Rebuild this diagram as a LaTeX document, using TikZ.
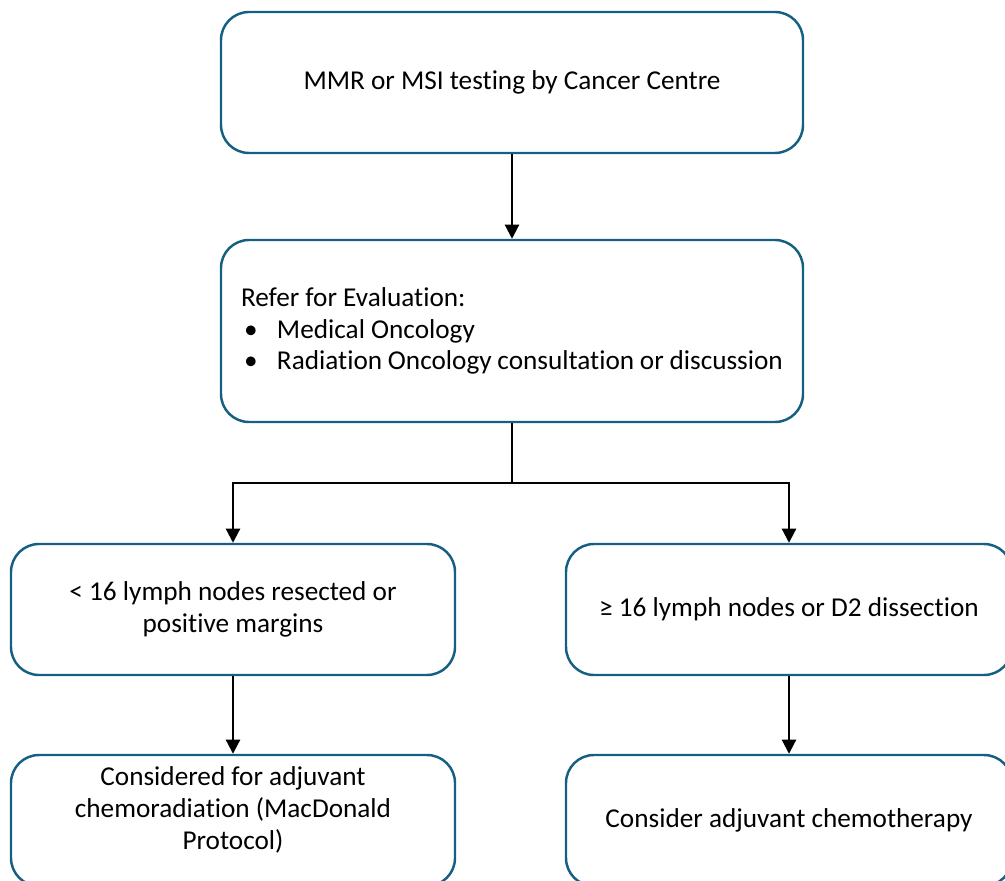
\documentclass[tikz,border=0pt]{standalone}
\usepackage{fontspec}
\setmainfont{Carlito}[Ligatures=NoCommon]
\usetikzlibrary{arrows.meta}
\definecolor{boxblue}{HTML}{156082}
\begin{document}
\begin{tikzpicture}[
    flowbox/.style={draw=boxblue,line width=1.4pt,rounded corners=0.56cm,
        align=center,font=\fontsize{15.5}{18}\selectfont},
    flowarrow/.style={draw=black,line width=1.2pt,-{Triangle[width=8pt,length=8pt]}}
    ]
    \useasboundingbox (0,0) rectangle (20.1,-17.62);
    % boxes
    \node[flowbox,minimum width=11.64cm,minimum height=2.82cm] (testing) at (10.24,-1.65)
        {MMR or MSI testing by Cancer Centre};
    \node[flowbox,minimum width=11.64cm,minimum height=3.64cm,text width=10.84cm,
        inner xsep=0.4cm,align=flush left] (refer) at (10.24,-6.62)
        {Refer for Evaluation:\\
         \hspace*{0.06cm}\makebox[0.66cm][l]{•}Medical Oncology\\
         \hspace*{0.06cm}\makebox[0.66cm][l]{•}Radiation Oncology consultation or discussion};
    \node[flowbox,minimum width=8.88cm,minimum height=2.62cm] (fewnodes) at (4.66,-12.19)
        {< 16 lymph nodes resected or\\positive margins};
    \node[flowbox,minimum width=8.92cm,minimum height=2.62cm] (manynodes) at (15.78,-12.19)
        {≥ 16 lymph nodes or D2 dissection};
    \node[flowbox,minimum width=8.88cm,minimum height=2.62cm,text depth=0.5cm] (chemorad) at (4.66,-16.41)
        {Considered for adjuvant\\chemoradiation (MacDonald\\Protocol)};
    \node[flowbox,minimum width=8.92cm,minimum height=2.62cm] (chemo) at (15.78,-16.41)
        {Consider adjuvant chemotherapy};
    % connectors
    \coordinate (split) at (10.24,-9.66);
    \draw[flowarrow] (testing) -- (refer);
    \draw[line width=1.2pt] (refer.south) -- (split);
    \draw[flowarrow] (split) -| (fewnodes.north);
    \draw[flowarrow] (split) -| (manynodes.north);
    \draw[flowarrow] (fewnodes) -- (chemorad);
    \draw[flowarrow] (manynodes) -- (chemo);
\end{tikzpicture}
\end{document}
